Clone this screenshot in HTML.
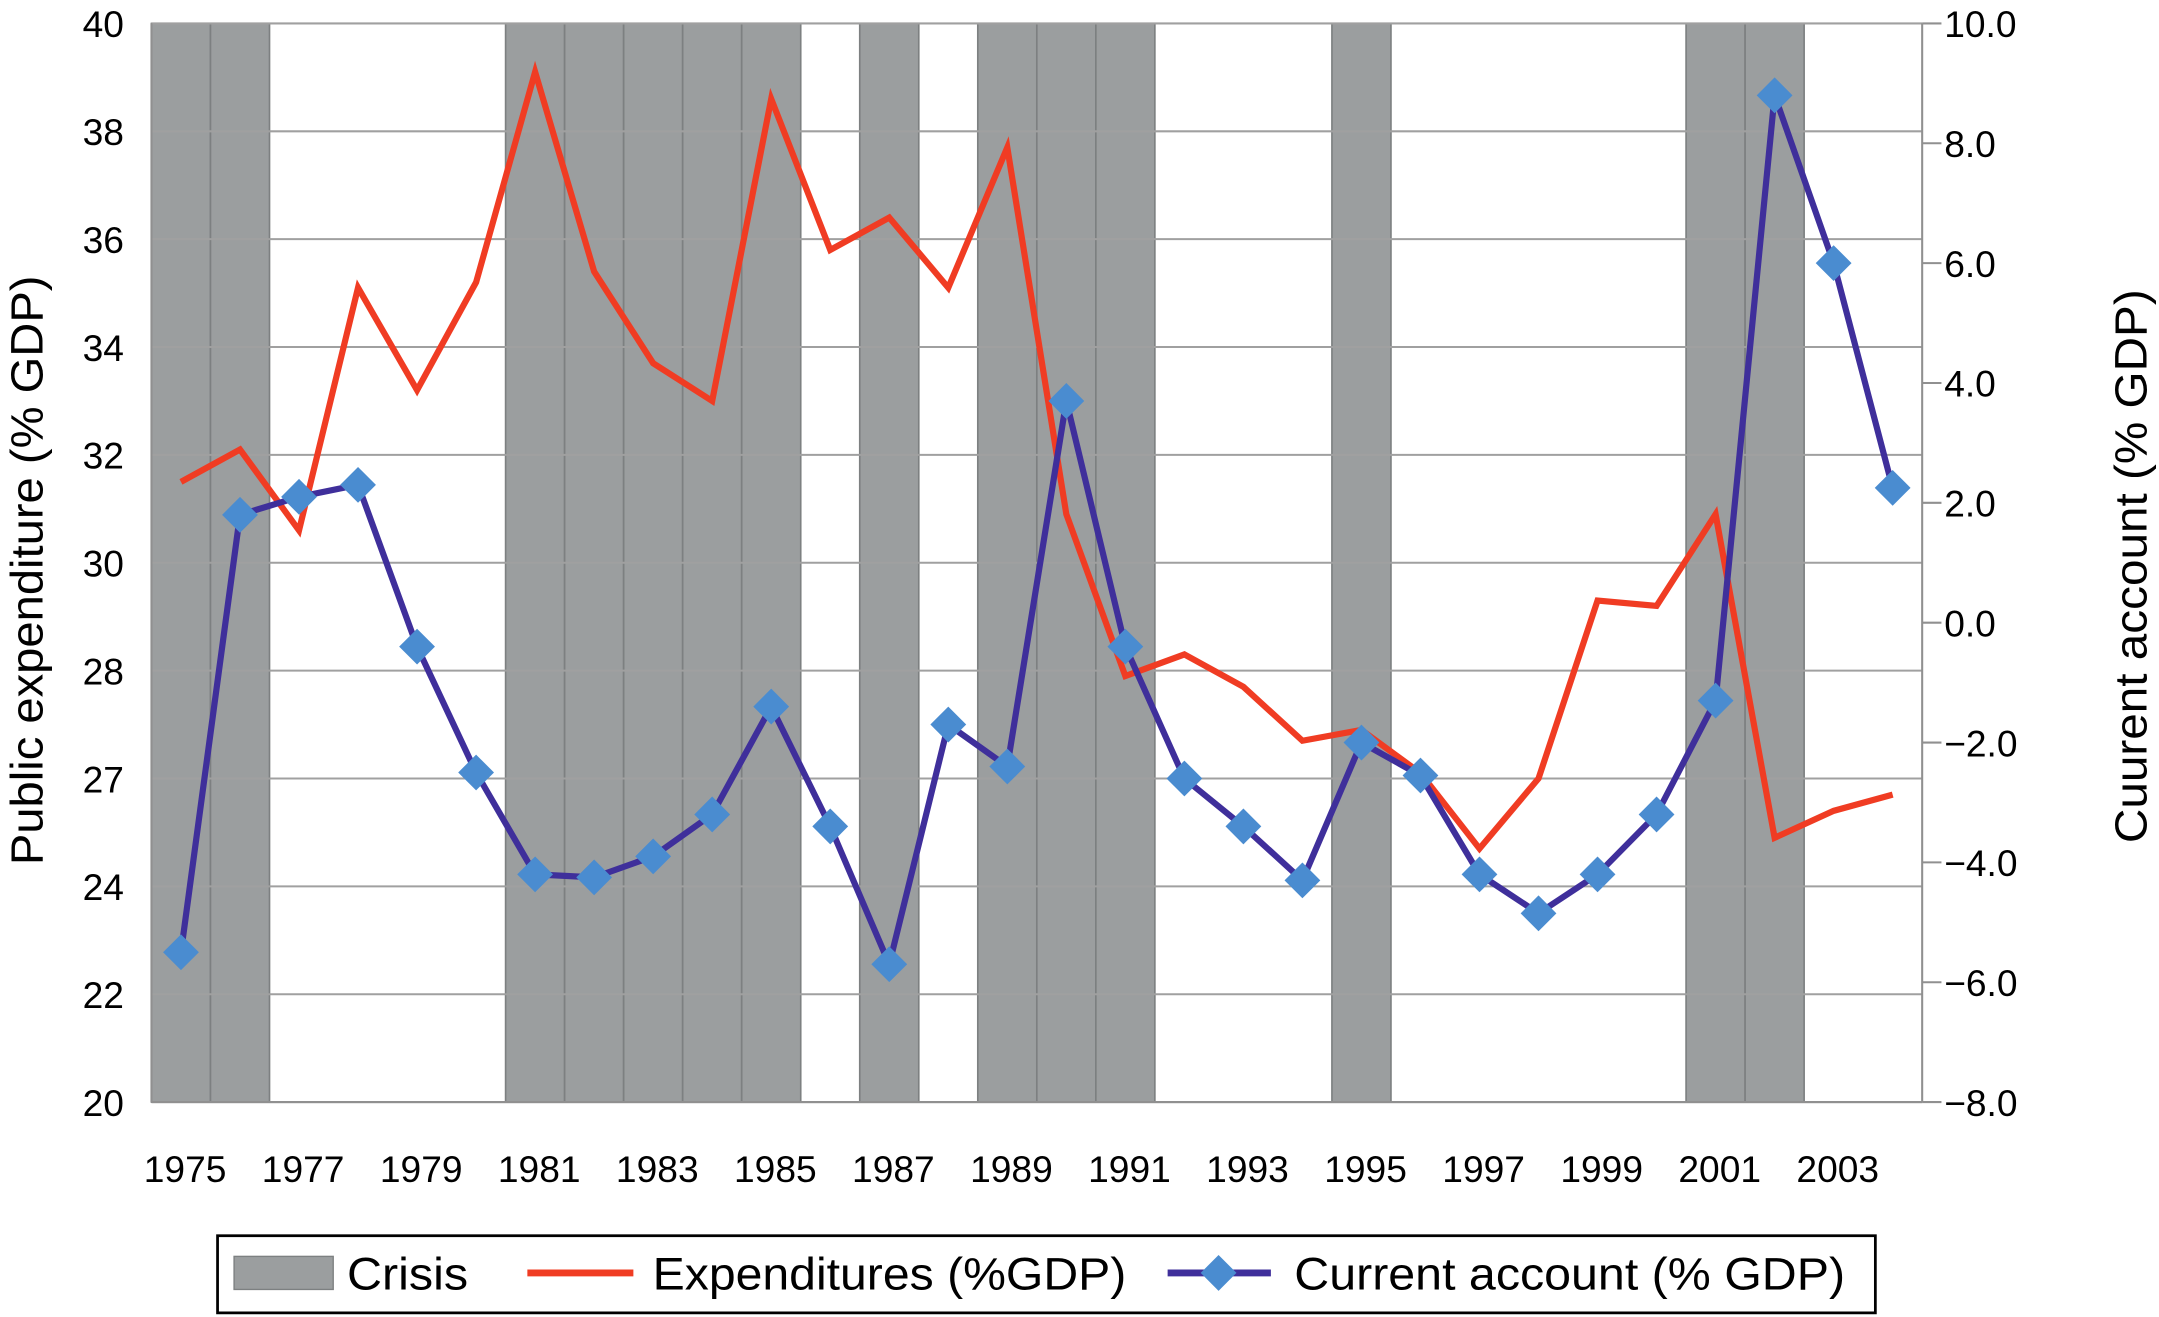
<!DOCTYPE html>
<html><head><meta charset="utf-8"><style>
html,body{margin:0;padding:0;background:#fff;}
svg{display:block;font-family:"Liberation Sans",sans-serif;}
</style></head><body>
<svg id="chart" width="2159" height="1317" viewBox="0 0 1568 956" preserveAspectRatio="none" xmlns="http://www.w3.org/2000/svg">
<g id="bands"></g>
<g id="grid"></g>
<g id="axes"></g>
<g id="series"></g>
<text x="0" y="0" transform="translate(31,414) rotate(-90)" text-anchor="middle" font-size="33" textLength="428" lengthAdjust="spacingAndGlyphs">Public expenditure (% GDP)</text>
<text x="0" y="0" transform="translate(1559,411) rotate(-90)" text-anchor="middle" font-size="33" textLength="402" lengthAdjust="spacingAndGlyphs">Cuurent account (% GDP)</text>
<g>
<rect x="158" y="897" width="1204" height="56" fill="#fff" stroke="#000" stroke-width="2"/>
<rect x="170" y="912" width="72" height="24" fill="#9b9e9f" stroke="#7d8081"/>
<text x="252" y="936" font-size="33" textLength="88" lengthAdjust="spacingAndGlyphs">Crisis</text>
<line x1="383" y1="924" x2="460" y2="924" stroke="#f03c23" stroke-width="5"/>
<text x="474" y="936" font-size="33" textLength="344" lengthAdjust="spacingAndGlyphs">Expenditures (%GDP)</text>
<line x1="848" y1="924" x2="923" y2="924" stroke="#3f2f9b" stroke-width="5"/>
<polygon points="885,911 898,924 885,937 872,924" fill="#4a8cd0"/>
<text x="940" y="936" font-size="33" textLength="400" lengthAdjust="spacingAndGlyphs">Current account (% GDP)</text>
</g>
</svg>
<script>
const years=[1975,1976,1977,1978,1979,1980,1981,1982,1983,1984,1985,1986,1987,1988,1989,1990,1991,1992,1993,1994,1995,1996,1997,1998,1999,2000,2001,2002,2003,2004];
const crisisYears=[1975,1976,1981,1982,1983,1984,1985,1987,1989,1990,1991,1995,2001,2002];
const expenditures=[31.5,32.1,30.6,35.1,33.2,35.2,39.1,35.4,33.7,33.0,38.6,35.8,36.4,35.1,37.7,30.9,27.9,28.3,27.7,26.7,26.9,26.1,24.7,26.0,29.3,29.2,30.9,24.9,25.4,25.7];
const currentAccount=[-5.5,1.8,2.1,2.3,-0.4,-2.5,-4.2,-4.25,-3.9,-3.2,-1.4,-3.4,-5.7,-1.7,-2.4,3.7,-0.4,-2.6,-3.4,-4.3,-2.0,-2.55,-4.2,-4.85,-4.2,-3.2,-1.3,8.8,6.0,2.25];
const leftTicks=[20,22,24,26,28,30,32,34,36,38,40];
const leftTickLabels=["20","22","24","27","28","30","32","34","36","38","40"];
const rightTicks=[-8,-6,-4,-2,0,2,4,6,8,10];
const xLabelYears=[1975,1977,1979,1981,1983,1985,1987,1989,1991,1993,1995,1997,1999,2001,2003];

const L=110,R=1396,T=17,B=800;
const bw=(R-L)/years.length;
const xBand=y=>L+(y-years[0])*bw;
const xC=y=>xBand(y)+bw/2;
const yL=v=>B-(v-20)/20*(B-T);
const yR=v=>B-(v+8)/18*(B-T);
const NS="http://www.w3.org/2000/svg";
function mk(tag,attrs,parent,txt){const e=document.createElementNS(NS,tag);for(const k in attrs)e.setAttribute(k,attrs[k]);if(txt!==undefined)e.textContent=txt;parent.appendChild(e);return e;}
const gB=document.getElementById('bands'),gG=document.getElementById('grid'),gA=document.getElementById('axes'),gS=document.getElementById('series');

leftTicks.forEach((t,i)=>{
  const ln=mk('line',{x1:L,x2:R,y1:yL(t),y2:yL(t),stroke:'#a0a0a0','stroke-width':1.5},gG);
  
  
  const tx=mk('text',{x:L-20,y:yL(t)+10,'text-anchor':'end','font-size':27},gA,leftTickLabels[i]);
  
  
});
crisisYears.forEach(y=>{
  const r=mk('rect',{x:xBand(y),y:T,width:bw,height:B-T,fill:'#9b9e9f',stroke:'#7d8081','stroke-width':1.2},gB);
  
  
});
mk('line',{x1:L,x2:L,y1:T,y2:B,stroke:'#909090','stroke-width':1.5},gA);
mk('line',{x1:L,x2:R,y1:B,y2:B,stroke:'#909090','stroke-width':1.5},gA);
mk('line',{x1:R,x2:R,y1:T,y2:B,stroke:'#909090','stroke-width':1.5},gA);
rightTicks.forEach(t=>{
  mk('line',{x1:R,x2:R+14,y1:yR(t),y2:yR(t),stroke:'#909090','stroke-width':1.5},gA);
  const lbl=(t<0?'\u2212'+Math.abs(t).toFixed(1):t.toFixed(1));
  const tx=mk('text',{x:R+16,y:yR(t)+10,'font-size':27},gA,lbl);
  
  
});
xLabelYears.forEach(y=>{
  const tx=mk('text',{x:xC(y)+3,y:B+58,'text-anchor':'middle','font-size':27},gA,String(y));
  
  
});
const pe=mk('polyline',{points:years.map((y,i)=>xC(y)+','+yL(expenditures[i])).join(' '),fill:'none',stroke:'#f03c23','stroke-width':4.5},gS);


const pc=mk('polyline',{points:years.map((y,i)=>xC(y)+','+yR(currentAccount[i])).join(' '),fill:'none',stroke:'#3f2f9b','stroke-width':4.5},gS);


years.forEach((y,i)=>{
  const cx=xC(y),cy=yR(currentAccount[i]),s=13;
  const d=mk('polygon',{points:`${cx},${cy-s} ${cx+s},${cy} ${cx},${cy+s} ${cx-s},${cy}`,fill:'#4a8cd0'},gS);
  
  
});
</script>
</body></html>
